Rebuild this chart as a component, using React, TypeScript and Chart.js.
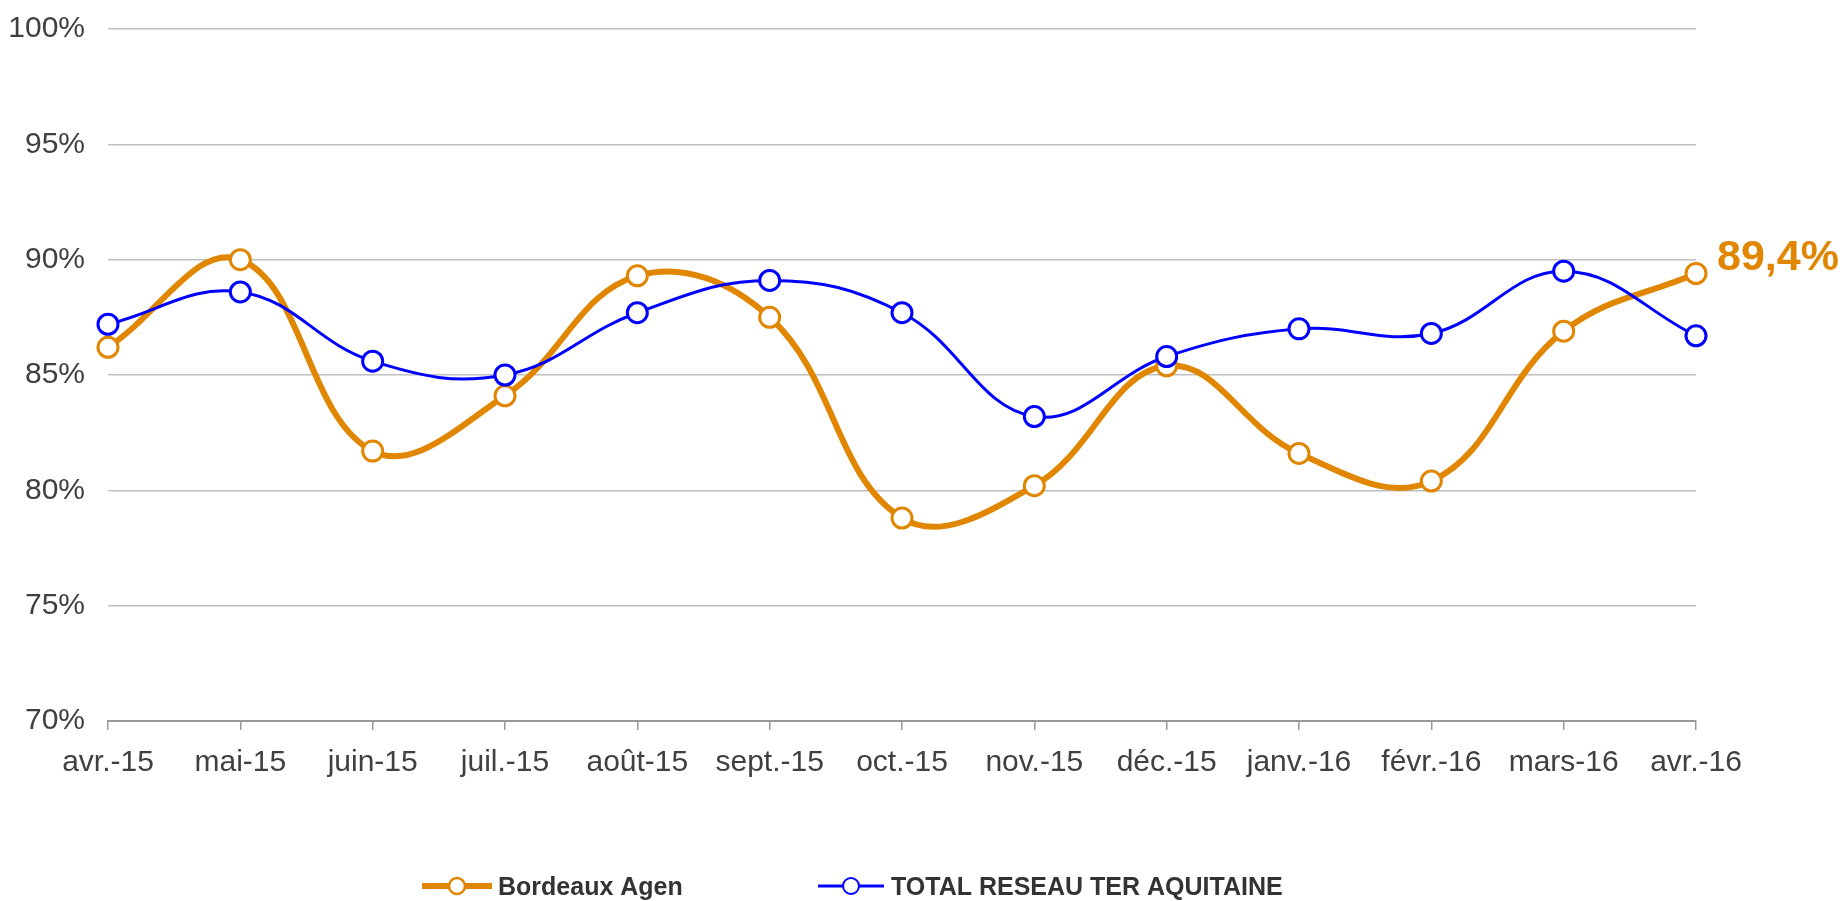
import React, { useEffect, useRef } from "react";
import { Chart, registerables } from "chart.js";

Chart.register(...registerables);

const categories = [
  "avr.-15", "mai-15", "juin-15", "juil.-15", "août-15", "sept.-15", "oct.-15",
  "nov.-15", "déc.-15", "janv.-16", "févr.-16", "mars-16", "avr.-16",
];
const bordeauxAgen = [86.2, 90.0, 81.7, 84.1, 89.3, 87.5, 78.8, 80.2, 85.4, 81.6, 80.4, 86.9, 89.4];
const totalReseau = [87.2, 88.6, 85.6, 85.0, 87.7, 89.1, 87.7, 83.2, 85.8, 87.0, 86.8, 89.5, 86.7];
const yTicks = [70, 75, 80, 85, 90, 95, 100];

const seriesNames = ["Bordeaux Agen", "TOTAL RESEAU TER AQUITAINE"];
const ORANGE = "#E08600";
const BLUE = "#0000FF";
const SANS = "'Liberation Sans', Arial, sans-serif";

const overlayPlugin = {
  id: "overlay",
  afterDraw(chart: any) {
    const ctx = chart.ctx;
    // last value label for Bordeaux Agen
    const ds = chart.data.datasets[0];
    const meta = chart.getDatasetMeta(0);
    const last = meta.data[meta.data.length - 1];
    const val = ds.data[ds.data.length - 1];
    ctx.save();
    ctx.fillStyle = ORANGE;
    ctx.font = `bold 43px ${SANS}`;
    ctx.textAlign = "left";
    ctx.textBaseline = "middle";
    ctx.fillText(val.toFixed(1).replace(".", ",") + "%", last.x + 21, last.y - 15);

    // legend
    const items = [
      { ds: chart.data.datasets[0], x0: 422, x1: 492, tx: 498, lw: 6, r: 8, bw: 2.5 },
      { ds: chart.data.datasets[1], x0: 818, x1: 884, tx: 891, lw: 3, r: 8, bw: 2 },
    ];
    const ly = 886;
    for (const it of items) {
      ctx.strokeStyle = it.ds.borderColor;
      ctx.lineWidth = it.lw;
      ctx.beginPath();
      ctx.moveTo(it.x0, ly);
      ctx.lineTo(it.x1, ly);
      ctx.stroke();
      ctx.beginPath();
      ctx.arc((it.x0 + it.x1) / 2, ly, it.r, 0, Math.PI * 2);
      ctx.fillStyle = "#fff";
      ctx.fill();
      ctx.lineWidth = it.bw;
      ctx.stroke();
      ctx.fillStyle = "#333";
      ctx.font = `bold 25px ${SANS}`;
      ctx.textAlign = "left";
      ctx.textBaseline = "middle";
      ctx.fillText(it.ds.label, it.tx, ly + 2);
    }
    ctx.restore();
  },
};

export default function App() {
  const ref = useRef<HTMLCanvasElement>(null);
  useEffect(() => {
    if (!ref.current) return;
    const chart = new Chart(ref.current, {
      type: "line",
      data: {
        labels: categories,
        datasets: [
          {
            label: seriesNames[0],
            data: bordeauxAgen,
            borderColor: ORANGE,
            borderWidth: 6,
            pointBackgroundColor: "#fff",
            pointBorderColor: ORANGE,
            pointBorderWidth: 3,
            pointRadius: 10,
            tension: 0.4,
            order: 2,
          },
          {
            label: seriesNames[1],
            data: totalReseau,
            borderColor: BLUE,
            borderWidth: 3,
            pointBackgroundColor: "#fff",
            pointBorderColor: BLUE,
            pointBorderWidth: 3,
            pointRadius: 10,
            tension: 0.4,
            order: 1,
          },
        ],
      },
      options: {
        animation: false,
        responsive: false,
        layout: { padding: { top: 29, right: 149, bottom: 0, left: 0 } },
        plugins: { legend: { display: false }, tooltip: { enabled: false } },
        scales: {
          x: {
            offset: false,
            grid: { drawOnChartArea: false, drawTicks: true, tickLength: 9, color: "#999", lineWidth: 1.5 },
            border: { display: true, color: "#999", width: 2 },
            ticks: {
              color: "#404040",
              font: { family: SANS, size: 30 },
              padding: 15,
              maxRotation: 0,
              autoSkip: false,
            },
            afterFit: (s: any) => { s.height = 180; },
          },
          y: {
            min: 70,
            max: 100,
            afterBuildTicks: (s: any) => { s.ticks = yTicks.map((v) => ({ value: v })); },
            grid: { color: "#BFBFBF", lineWidth: 1.5, drawTicks: false },
            border: { display: false },
            ticks: {
              color: "#404040",
              font: { family: SANS, size: 30, lineHeight: 0.3 },
              padding: 23,
              callback: (v: any) => v + "%",
            },
            afterFit: (s: any) => { s.width = 108; },
          },
        },
      },
      plugins: [overlayPlugin],
    });
    return () => chart.destroy();
  }, []);
  return (
    <div style={{ position: "fixed", left: 0, top: 0, width: 1845, height: 901, background: "#fff" }}>
      <canvas ref={ref} width={1845} height={901} />
    </div>
  );
}
